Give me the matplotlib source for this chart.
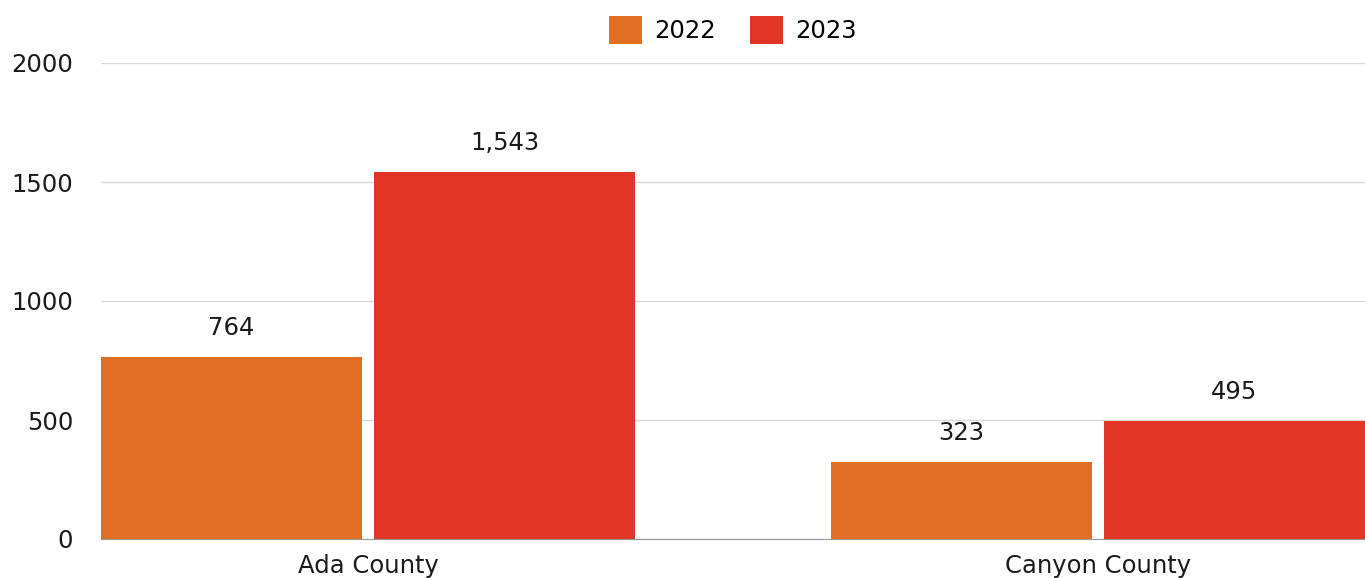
import matplotlib.pyplot as plt
import numpy as np

counties = ['Ada County', 'Canyon County']
years = ['2022', '2023']
values_2022 = [764, 323]
values_2023 = [1543, 495]
colors = ['#E26E24', '#E33526']

plt.rcParams['font.family'] = ['DejaVu Sans']

fig = plt.figure(figsize=(13.65, 5.78), dpi=100)
ax = fig.add_axes([101 / 1365, 39 / 578, 1264 / 1365, 476 / 578])

x = np.arange(len(counties))
width = 0.3575
offset = 0.187
series = [values_2022, values_2023]
for i, (vals, year) in enumerate(zip(series, years)):
    pos = x + (offset if i else -offset)
    bars = ax.bar(pos, vals, width, color=colors[i], label=year, zorder=3)
    for b, v in zip(bars, vals):
        ax.annotate(f'{v:,}', (b.get_x() + b.get_width() / 2, v),
                    xytext=(0, 21), textcoords='offset points',
                    ha='center', va='center', fontsize=17.5, color='#1a1a1a')

ax.set_xlim(-0.3658, 1.3658)
ax.set_ylim(0, 2000)
ax.set_yticks([0, 500, 1000, 1500, 2000])
ax.set_xticks(x)
ax.set_xticklabels(counties)
ax.tick_params(axis='both', length=0, labelsize=17.5, colors='#1a1a1a')
ax.tick_params(axis='y', pad=20)
ax.tick_params(axis='x', pad=11)
ax.grid(axis='y', color='#d9d9d9', linewidth=1, zorder=0)
for s in ['top', 'right', 'left']:
    ax.spines[s].set_visible(False)
ax.spines['bottom'].set_color('#999999')
ax.spines['bottom'].set_zorder(4)

ax.legend(loc='center', bbox_to_anchor=(0.5, 1 + 33 / 476), ncol=2, frameon=False,
          fontsize=17.5, handlelength=1.35, handleheight=1.35, columnspacing=1.4,
          handletextpad=0.5)

fig.savefig('out.png', dpi=100)
